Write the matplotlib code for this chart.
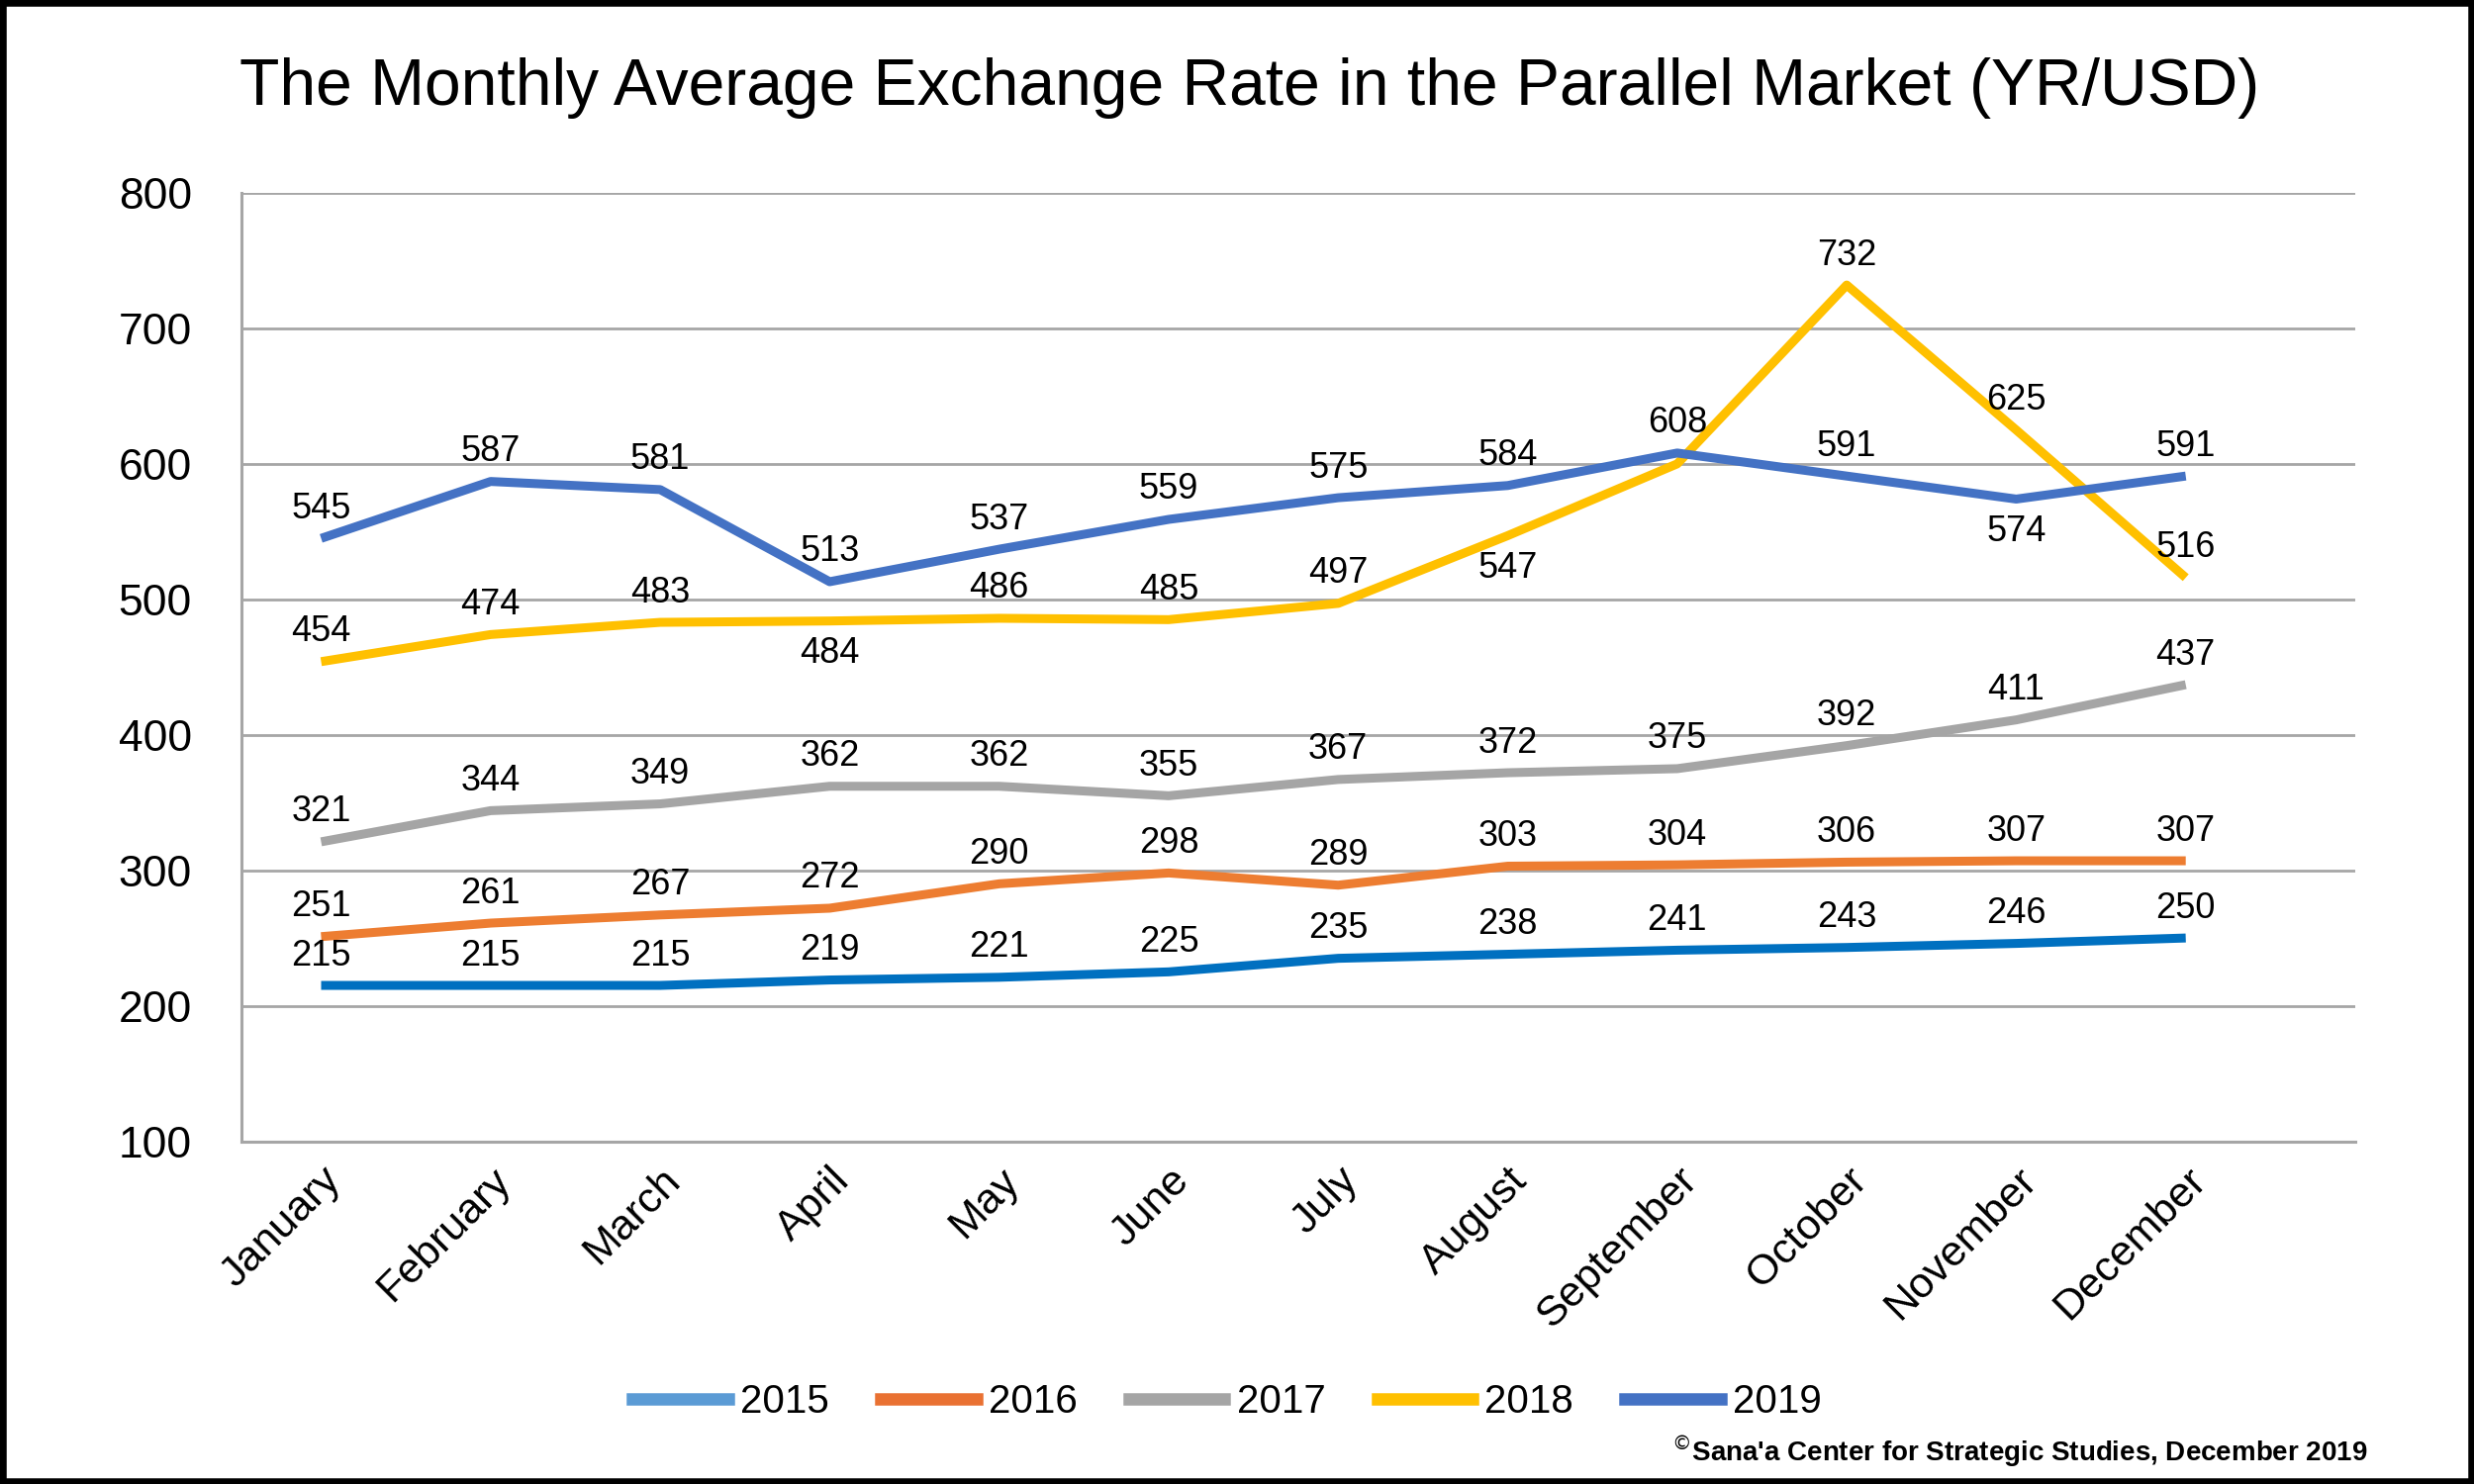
import matplotlib.pyplot as plt
from matplotlib.lines import Line2D
from matplotlib.patches import Rectangle

plt.rcParams['font.family'] = ['Liberation Sans', 'DejaVu Sans']

months = ['January', 'February', 'March', 'April', 'May', 'June', 'July',
          'August', 'September', 'October', 'November', 'December']
years = ['2015', '2016', '2017', '2018', '2019']
rate_2015 = [215, 215, 215, 219, 221, 225, 235, 238, 241, 243, 246, 250]
rate_2016 = [251, 261, 267, 272, 290, 298, 289, 303, 304, 306, 307, 307]
rate_2017 = [321, 344, 349, 362, 362, 355, 367, 372, 375, 392, 411, 437]
rate_2018 = [454, 474, 483, 484, 486, 485, 497, 547, 600, 732, 625, 516]
rate_2019 = [545, 587, 581, 513, 537, 559, 575, 584, 608, 591, 574, 591]

series = [rate_2015, rate_2016, rate_2017, rate_2018, rate_2019]
line_colors = ['#0070C0', '#ED7D31', '#A5A5A5', '#FFC000', '#4472C4']
legend_colors = ['#5B9BD5', '#E97132', '#A5A5A5', '#FFC000', '#4472C4']

# labels that sit under the line, and the one that is not shown
below = {('2018', 3), ('2018', 7), ('2019', 10)}
hidden = {('2018', 8)}

fig = plt.figure(figsize=(25, 15), dpi=100)
ax = fig.add_axes([0.0976, 0.231, 0.8544, 0.639])

x = list(range(len(months)))
for yr, vals, col in zip(years, series, line_colors):
    ax.plot(x, vals, color=col, lw=6.5, solid_capstyle='butt', zorder=3)
    for i, v in enumerate(vals):
        if (yr, i) in hidden:
            continue
        if (yr, i) in below:
            ax.annotate(str(v), (i, v), xytext=(0, -11), textcoords='offset points',
                        ha='center', va='top', fontsize=26, zorder=4)
        else:
            ax.annotate(str(v), (i, v), xytext=(0, 9), textcoords='offset points',
                        ha='center', va='bottom', fontsize=26, zorder=4)

ax.set_ylim(100, 800)
ax.set_yticks(range(100, 801, 100))
ax.set_xlim(-0.47, 12.0)
ax.set_xticks(x)
ax.set_xticklabels(months, rotation=45, ha='right', rotation_mode='anchor', fontsize=31)
ax.tick_params(axis='y', labelsize=32, length=0, pad=36)
ax.tick_params(axis='x', length=0, pad=14)
ax.grid(axis='y', color='#A6A6A6', lw=2)
ax.set_axisbelow(True)
for s in ['top', 'right']:
    ax.spines[s].set_visible(False)
for s in ['left', 'bottom']:
    ax.spines[s].set_color('#A6A6A6')
    ax.spines[s].set_linewidth(2.2)

fig.text(0.505, 0.941, 'The Monthly Average Exchange Rate in the Parallel Market (YR/USD)',
         ha='center', va='center', fontsize=47.5)

handles = [Line2D([], [], color=c, lw=9) for c in legend_colors]
fig.legend(handles, years, loc='center', bbox_to_anchor=(0.496, 0.0553), ncol=5,
           frameon=False, fontsize=29, handlelength=2.4, handletextpad=0.3,
           columnspacing=1.3)

fig.text(0.957, 0.015, "$^{\\copyright}$Sana'a Center for Strategic Studies, December 2019",
         ha='right', va='baseline', fontsize=20, fontweight='bold')

fig.patches.append(Rectangle((0, 0), 1, 1, transform=fig.transFigure, fill=False,
                             edgecolor='black', lw=9, zorder=10))

fig.savefig('out.png', dpi=100)
